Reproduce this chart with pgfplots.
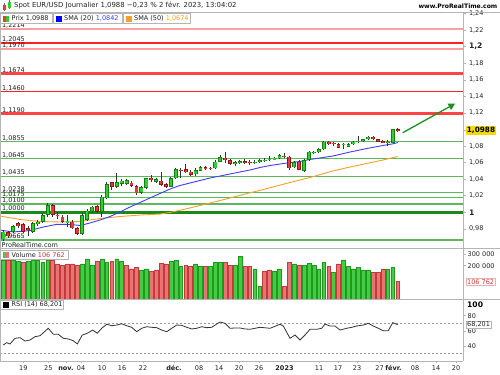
\documentclass[border=0pt]{standalone}
\usepackage{pgfplots}
\pgfplotsset{compat=1.18}
\usepackage{pgfplotstable}
\usepackage{fontspec}
\setmainfont{DejaVu Sans}
\usetikzlibrary{arrows.meta}

\definecolor{upg}{HTML}{33CC33}
\definecolor{upgd}{HTML}{0F7F0F}
\definecolor{dnr}{HTML}{E23B3B}
\definecolor{dnrd}{HTML}{8E1515}
\definecolor{vg}{HTML}{44CC44}
\definecolor{vgd}{HTML}{1E9A1E}
\definecolor{vr}{HTML}{E87474}
\definecolor{vrd}{HTML}{C23A3A}
\definecolor{lvlred}{HTML}{FF2020}
\definecolor{lvlthick}{HTML}{FF4444}
\definecolor{lvlpink}{HTML}{FF9E9E}
\definecolor{lvlgreen}{HTML}{5CB85C}
\definecolor{lvldark}{HTML}{1A8A1A}
\definecolor{smablue}{HTML}{3F3FF2}
\definecolor{smaorange}{HTML}{F5A02A}
\definecolor{framegray}{HTML}{B5B5B5}
\definecolor{arrowgreen}{HTML}{1E8F1E}
\definecolor{pricebox}{HTML}{F5D90A}
\definecolor{txt}{HTML}{222222}
\definecolor{wickc}{HTML}{333333}

\newcommand{\fs}{\fontsize{6.5bp}{7bp}\selectfont}
\newcommand{\fh}{\fontsize{6.9bp}{8bp}\selectfont}
\newcommand{\fb}{\fontsize{7.6bp}{8bp}\selectfont\bfseries}

% up candles: x O H L C
\pgfplotstableread{
x O H L C
3.3 0.9674 0.9786 0.9653 0.9766
13.2 0.9766 0.9847 0.9746 0.9835
32.9 0.9766 0.9883 0.9746 0.9867
37.8 0.9859 0.9907 0.9835 0.9886
42.7 0.9886 0.9992 0.9871 0.9967
47.7 0.9967 1.0109 0.9947 1.0088
67.4 0.9883 0.9967 0.9826 0.9895
82.2 0.9738 0.9988 0.9726 0.9967
87.1 0.9907 1.0040 0.9895 1.0019
92.0 1.0007 1.0082 0.9992 1.0068
101.9 1.0007 1.0209 0.9947 1.0188
106.8 1.0169 1.0370 1.0155 1.0342
116.7 1.0309 1.0478 1.0293 1.0362
121.6 1.0342 1.0402 1.0318 1.0382
126.6 1.0342 1.0408 1.0324 1.0390
141.3 1.0237 1.0318 1.0227 1.0302
146.3 1.0297 1.0420 1.0287 1.0411
156.1 1.0370 1.0420 1.0354 1.0399
170.9 1.0309 1.0426 1.0300 1.0411
175.9 1.0411 1.0531 1.0402 1.0519
195.6 1.0459 1.0529 1.0444 1.0511
200.5 1.0502 1.0565 1.0493 1.0543
215.3 1.0531 1.0626 1.0523 1.0611
220.2 1.0611 1.0696 1.0604 1.0664
235.0 1.0583 1.0614 1.0565 1.0604
239.9 1.0599 1.0632 1.0589 1.0620
254.7 1.0592 1.0626 1.0583 1.0611
259.7 1.0604 1.0644 1.0595 1.0632
264.6 1.0628 1.0656 1.0607 1.0636
269.5 1.0640 1.0680 1.0620 1.0648
274.5 1.0632 1.0674 1.0626 1.0659
279.4 1.0652 1.0710 1.0644 1.0692
294.2 1.0543 1.0614 1.0535 1.0604
304.0 1.0500 1.0644 1.0481 1.0632
309.0 1.0632 1.0746 1.0620 1.0732
313.9 1.0720 1.0740 1.0704 1.0729
318.8 1.0725 1.0771 1.0713 1.0761
323.8 1.0761 1.0861 1.0752 1.0853
343.5 1.0816 1.0833 1.0764 1.0825
348.4 1.0792 1.0837 1.0783 1.0825
353.3 1.0821 1.0861 1.0813 1.0853
358.3 1.0857 1.0921 1.0833 1.0866
363.2 1.0861 1.0891 1.0853 1.0882
368.1 1.0882 1.0921 1.0873 1.0913
387.8 1.0845 1.0873 1.0801 1.0854
392.8 1.0841 1.1012 1.0831 1.1002
}\upC

% down candles
\pgfplotstableread{
x O H L C
8.2 0.9760 0.9774 0.9690 0.9712
18.1 0.9867 0.9883 0.9810 0.9835
23.0 0.9859 0.9871 0.9750 0.9766
28.0 0.9810 0.9835 0.9714 0.9792
52.6 1.0088 1.0100 0.9947 0.9967
57.5 0.9973 0.9998 0.9925 0.9955
62.5 0.9947 0.9967 0.9871 0.9886
72.3 0.9886 0.9907 0.9798 0.9807
77.3 0.9807 0.9822 0.9720 0.9738
97.0 1.0076 1.0088 0.9992 1.0007
111.8 1.0362 1.0370 1.0269 1.0309
131.5 1.0357 1.0378 1.0300 1.0318
136.4 1.0318 1.0330 1.0215 1.0229
151.2 1.0418 1.0450 1.0370 1.0390
161.1 1.0382 1.0483 1.0318 1.0330
166.0 1.0342 1.0354 1.0293 1.0309
180.8 1.0517 1.0531 1.0411 1.0505
185.7 1.0519 1.0583 1.0471 1.0483
190.6 1.0490 1.0505 1.0438 1.0450
205.4 1.0543 1.0559 1.0511 1.0531
210.4 1.0535 1.0547 1.0511 1.0527
225.2 1.0659 1.0725 1.0592 1.0632
230.1 1.0632 1.0644 1.0571 1.0583
244.9 1.0620 1.0638 1.0583 1.0599
249.8 1.0607 1.0632 1.0571 1.0599
284.3 1.0685 1.0713 1.0652 1.0676
289.2 1.0671 1.0680 1.0511 1.0531
299.1 1.0611 1.0626 1.0505 1.0511
328.7 1.0853 1.0861 1.0809 1.0821
333.6 1.0838 1.0853 1.0801 1.0828
338.5 1.0821 1.0831 1.0771 1.0780
373.1 1.0913 1.0921 1.0873 1.0885
378.0 1.0885 1.0891 1.0845 1.0853
382.9 1.0861 1.0873 1.0837 1.0845
397.7 1.1003 1.1014 1.0970 1.0988
}\dnC

\pgfplotstableread{
x s
0 0.9786
13 0.9762
30 0.9780
43 0.9822
57 0.9855
70 0.9853
80 0.9841
90 0.9871
100 0.9907
110 0.9949
120 1.0004
130 1.0064
140 1.0118
150 1.0173
160 1.0227
170 1.0281
180 1.0324
190 1.0354
200 1.0384
210 1.0414
220 1.0438
230 1.0463
240 1.0487
250 1.0511
260 1.0541
270 1.0565
280 1.0583
290 1.0601
300 1.0614
310 1.0638
320 1.0656
333 1.0680
350 1.0728
367 1.0771
383 1.0807
393 1.0827
397.7 1.0842
}\smaA

\pgfplotstableread{
x s
0 0.9955
20 0.9913
40 0.9889
60 0.9883
80 0.9889
100 0.9925
120 0.9949
140 0.9967
160 0.9979
170 0.9998
180 1.0025
190 1.0053
200 1.0082
210 1.0112
220 1.0142
230 1.0173
240 1.0205
250 1.0235
267 1.0287
290 1.0360
310 1.0420
333 1.0500
350 1.0547
367 1.0590
383 1.0632
397.7 1.0674
}\smaB

\pgfplotstableread{
x v
3.3 229000
13.2 229000
18.1 223000
28.0 223000
32.9 229000
37.8 229000
42.7 216000
47.7 229000
82.2 206000
87.1 235000
92.0 200000
101.9 235000
106.8 216000
116.7 235000
121.6 223000
141.3 171000
146.3 177000
170.9 223000
175.9 229000
180.8 194000
195.6 206000
200.5 190000
210.4 190000
215.3 217000
220.2 217000
235.0 200000
239.9 252000
254.7 177000
259.7 78000
274.5 161000
279.4 177000
294.2 206000
304.0 200000
309.0 210000
313.9 198000
318.8 177000
323.8 217000
333.6 159000
343.5 229000
348.4 190000
353.3 177000
358.3 187000
363.2 167000
368.1 171000
387.8 177000
392.8 188000
}\volG

\pgfplotstableread{
x v
8.2 229000
23.0 216000
52.6 229000
57.5 206000
62.5 198000
67.4 206000
72.3 206000
77.3 200000
97.0 219000
111.8 223000
126.6 200000
131.5 177000
136.4 188000
151.2 161000
156.1 171000
161.1 210000
166.0 206000
185.7 198000
190.6 190000
205.4 190000
225.2 217000
230.1 200000
244.9 194000
249.8 194000
264.6 161000
269.5 171000
284.3 74000
289.2 217000
299.1 200000
328.7 194000
338.5 206000
373.1 159000
378.0 159000
382.9 177000
397.7 106762
}\volR

\pgfplotstableread{
x r
3.3 41.3
6.7 44.4
10 42.7
15 50.2
20 51.0
25 46.6
30 47.9
35 52.3
40 53.6
48.3 63.4
53.3 55.5
58.3 55.5
63.3 50.2
68.3 49.3
73.3 47.0
77.3 42.7
82.3 54.5
87.3 56.8
92.7 61.1
97.3 56.8
101.7 63.4
106.7 68.7
111.7 66.8
116.7 67.7
121.7 69.4
126.7 66.8
131.7 64.7
136.7 58.9
141.7 63.4
146.7 65.5
151.7 64.7
156.7 64.2
161.7 61.1
166.7 58.9
171.7 63.4
176.7 67.7
181.7 67.3
186.7 64.7
191.7 62.5
196.7 63.4
201.7 65.5
206.7 64.2
211.7 64.7
216.7 69.0
220 71.7
225 70.0
230 63.4
235 63.8
240 63.8
245 62.5
250 62.1
260 64.7
270 63.4
280 68.7
283.3 66.4
290 50.2
295 54.5
300 47.9
305 54.5
310 62.1
316.7 62.1
321.7 63.4
325 69.0
330 66.4
335 66.4
340 61.1
346.7 63.4
351.7 64.7
356.7 66.4
363.3 67.7
368.3 70.0
373.3 66.4
378.3 63.4
383.3 60.2
388.3 60.2
392.7 70.8
397.7 68.2
}\rsiT

\pgfplotsset{
  bar err/.style 2 args={draw=none, mark=none, forget plot,
    error bars/.cd, y dir=both, y explicit, error mark=none,
    error bar style={color=#1, draw=#1, line width=#2, solid, line cap=butt}},
}

\begin{document}
\begin{tikzpicture}
\useasboundingbox (0,0) rectangle (500bp,-375bp);
\fill[white] (0,0) rectangle (500bp,-375bp);

% ---------------- price panel ----------------
\begin{axis}[
  at={(0bp,-12.5bp)}, anchor=north west,
  scale only axis, width=463bp, height=235.8bp,
  xmin=0, xmax=463, ymin=0.95652, ymax=1.24130,
  clip=false,
  axis x line=none, axis y line*=right,
  axis line style={framegray,-},
  ytick={0.98,1,1.02,1.04,1.06,1.08,1.12,1.14,1.16,1.18,1.2,1.22,1.24},
  yticklabels={{0,98},{\fb 1},{1,02},{1,04},{1,06},{1,08},{1,12},{1,14},{1,16},{1,18},{\fb 1,2},{1,22},{\raisebox{-3bp}{1,24}}},
  extra y ticks={1.0988}, extra y tick labels={},
  yticklabel style={font=\fs, text=txt},
  tick align=outside, major tick length=2.5bp,
  tick style={framegray, line width=0.6bp},
]
% horizontal levels
\addplot[lvlpink, line width=1.5bp] coordinates {(0,1.2214) (463,1.2214)};
\addplot[lvlred, line width=1.1bp] coordinates {(0,1.2045) (463,1.2045)};
\addplot[lvlpink, line width=1.5bp] coordinates {(0,1.1970) (463,1.1970)};
\addplot[lvlthick, line width=2.6bp] coordinates {(0,1.1674) (463,1.1674)};
\addplot[lvlred, line width=1.2bp] coordinates {(0,1.1460) (463,1.1460)};
\addplot[lvlthick, line width=2.6bp] coordinates {(0,1.1190) (463,1.1190)};
\addplot[lvlgreen, line width=1.1bp] coordinates {(0,1.0855) (463,1.0855)};
\addplot[lvlgreen, line width=1.1bp] coordinates {(0,1.0645) (463,1.0645)};
\addplot[lvlgreen, line width=1.1bp] coordinates {(0,1.0435) (463,1.0435)};
\addplot[lvlgreen, line width=1.1bp] coordinates {(0,1.0238) (463,1.0238)};
\addplot[lvlgreen, line width=1.1bp] coordinates {(0,1.0175) (463,1.0175)};
\addplot[lvlgreen, line width=1.1bp] coordinates {(0,1.0100) (463,1.0100)};
\addplot[lvldark, line width=2.6bp] coordinates {(0,1.0000) (463,1.0000)};
\addplot[lvlgreen, line width=1.1bp] coordinates {(0,0.9665) (463,0.9665)};
% level labels
\begin{scope}[every node/.style={anchor=south west, inner sep=0.4bp, font=\fs, text=txt}]
\node at (axis cs:1.5,1.2214) {1,2214};
\node at (axis cs:1.5,1.2045) {1,2045};
\node at (axis cs:1.5,1.1970) {1,1970};
\node at (axis cs:1.5,1.1674) {1,1674};
\node at (axis cs:1.5,1.1460) {1,1460};
\node at (axis cs:1.5,1.1190) {1,1190};
\node at (axis cs:1.5,1.0855) {1,0855};
\node at (axis cs:1.5,1.0645) {1,0645};
\node at (axis cs:1.5,1.0435) {1,0435};
\node at (axis cs:1.5,1.0238) {1,0238};
\node at (axis cs:1.5,1.0175) {1,0175};
\node at (axis cs:1.5,1.0100) {1,0100};
\node at (axis cs:1.5,1.0000) {1,0000};
\node at (axis cs:1.5,0.9665) {0,9665};
\end{scope}
% moving averages
\addplot[smaorange, line width=0.9bp] table[x=x, y=s] {\smaB};
\addplot[smablue, line width=0.9bp] table[x=x, y=s] {\smaA};
% candles: wicks
\addplot[bar err={wickc}{0.9bp}] table[x=x, y expr={(\thisrow{H}+\thisrow{L})/2}, y error expr={(\thisrow{H}-\thisrow{L})/2}] {\upC};
\addplot[bar err={wickc}{0.9bp}] table[x=x, y expr={(\thisrow{H}+\thisrow{L})/2}, y error expr={(\thisrow{H}-\thisrow{L})/2}] {\dnC};
% bodies: border then fill
\addplot[bar err={upgd}{3.8bp}] table[x=x, y expr={(\thisrow{O}+\thisrow{C})/2}, y error expr={abs(\thisrow{C}-\thisrow{O})/2}] {\upC};
\addplot[bar err={upg}{2.4bp}] table[x=x, y expr={(\thisrow{O}+\thisrow{C})/2}, y error expr={max(abs(\thisrow{C}-\thisrow{O})/2-0.0007,0.0001)}] {\upC};
\addplot[bar err={dnrd}{3.8bp}] table[x=x, y expr={(\thisrow{O}+\thisrow{C})/2}, y error expr={abs(\thisrow{C}-\thisrow{O})/2}] {\dnC};
\addplot[bar err={dnr}{2.4bp}] table[x=x, y expr={(\thisrow{O}+\thisrow{C})/2}, y error expr={max(abs(\thisrow{C}-\thisrow{O})/2-0.0007,0.0001)}] {\dnC};
% arrow
\draw[arrowgreen, line width=1.3bp, -{Triangle[length=6.5bp,width=7bp]}] (axis cs:402.7,1.0961) -- (axis cs:455,1.1312);
% price box
\node[fill=pricebox, anchor=west, inner sep=1.2bp, font=\fontsize{7.3bp}{8bp}\selectfont\bfseries, text=black] at (axis cs:465.5,1.0988) {1,0988};
% watermark
\node[anchor=west, inner sep=0, font=\fs, text=txt] at (axis cs:1.5,0.9607) {ProRealTime.com};
\end{axis}

% ---------------- volume panel ----------------
\begin{axis}[
  at={(0bp,-248.3bp)}, anchor=north west,
  scale only axis, width=463bp, height=51.1bp,
  xmin=0, xmax=463, ymin=0, ymax=297100,
  hide axis, clip=false,
]
\addplot[ybar, bar width=3.8, bar shift=0pt, fill=vg, draw=vgd, line width=0.5bp] table[x=x, y=v] {\volG};
\addplot[ybar, bar width=3.8, bar shift=0pt, fill=vr, draw=vrd, line width=0.5bp] table[x=x, y=v] {\volR};
\end{axis}

% ---------------- RSI panel ----------------
\begin{axis}[
  at={(0bp,-299.5bp)}, anchor=north west,
  scale only axis, width=463bp, height=61.2bp,
  xmin=0, xmax=463, ymin=20.6, ymax=101.4,
  clip=false,
  axis y line=none, axis x line*=bottom,
  axis line style={framegray,-},
  xtick={23.3,48.3,66,81,102,122,143,174,199,219,239,259,284.5,319,338,357,379.5,393.5,415,436,456},
  xticklabels={19,25,{\bfseries nov.},04,10,16,22,{\bfseries déc.},08,14,20,26,{\bfseries 2023},11,17,23,27,{\bfseries févr.},08,14,20},
  xticklabel style={font=\fs, text=txt, text height=4.8bp, text depth=0.2bp, yshift=0.8bp},
  tick align=outside, major tick length=2bp,
  tick style={framegray, line width=0.6bp},
]
\addplot[gray!80, line width=0.6bp, dash pattern=on 2bp off 2bp] coordinates {(0,70) (463,70)};
\addplot[gray!80, line width=0.6bp, dash pattern=on 2bp off 2bp] coordinates {(0,30) (463,30)};
\addplot[black!80, line width=0.8bp] table[x=x, y=r] {\rsiT};
\end{axis}

% ---------------- frames ----------------
\draw[framegray, line width=0.6bp] (0,-12.5bp) -- (500bp,-12.5bp);
\draw[framegray, line width=0.6bp] (0,-248.3bp) -- (500bp,-248.3bp);
\draw[framegray, line width=0.6bp] (0,-299.5bp) -- (500bp,-299.5bp);
\draw[framegray, line width=0.6bp] (463bp,-12.5bp) -- (463bp,-360.7bp);
\draw[framegray, line width=0.6bp] (0.3bp,-12.5bp) -- (0.3bp,-360.7bp);

% ---------------- header ----------------
\draw[black!60, line width=0.5bp] (4.5bp,-3bp) -- (4.5bp,-11bp);
\fill[dnr] (3bp,-5bp) rectangle (6bp,-10bp);
\draw[black!60, line width=0.5bp] (9.5bp,-0.5bp) -- (9.5bp,-9bp);
\fill[upg] (8bp,-1.5bp) rectangle (11bp,-8bp);
\node[anchor=west, inner sep=0, font=\fh, text=txt] at (14bp,-5.8bp) {Spot EUR/USD Journalier 1,0988 −0,23 \% 2 févr. 2023, 13:04:02};
\node[anchor=east, inner sep=0, font=\fontsize{6.1bp}{7bp}\selectfont\bfseries, text=black] at (497.5bp,-6bp) {www.ProRealTime.com};

% price legend boxes
\draw[framegray, fill=white, line width=0.5bp] (0.5bp,-13.5bp) rectangle (52bp,-23.5bp);
\fill[dnr] (3bp,-15.5bp) rectangle (6bp,-21.5bp);
\fill[upg] (6bp,-15.5bp) rectangle (9bp,-21.5bp);
\node[anchor=west, inner sep=0, font=\fs, text=txt] at (11.5bp,-18.6bp) {Prix 1,0988};
\draw[framegray, fill=white, line width=0.5bp] (53.5bp,-13.5bp) rectangle (122bp,-23.5bp);
\fill[blue] (56bp,-15.5bp) rectangle (62bp,-21.5bp);
\node[anchor=west, inner sep=0, font=\fs, text=txt] at (64bp,-18.6bp) {SMA (20) \textcolor{smablue}{1,0842}};
\draw[framegray, fill=white, line width=0.5bp] (123.5bp,-13.5bp) rectangle (190bp,-23.5bp);
\fill[smaorange] (126bp,-15.5bp) rectangle (132bp,-21.5bp);
\node[anchor=west, inner sep=0, font=\fs, text=txt] at (134bp,-18.6bp) {SMA (50) \textcolor{smaorange}{1,0674}};

% volume legend and labels
\draw[framegray, fill=white, line width=0.5bp] (0.5bp,-249.8bp) rectangle (68bp,-259.3bp);
\fill[vg] (3bp,-251.5bp) rectangle (6bp,-257.5bp);
\fill[vr] (6bp,-251.5bp) rectangle (9bp,-257.5bp);
\node[anchor=west, inner sep=0, font=\fs, text=txt] at (11.5bp,-254.6bp) {Volume \textcolor{vrd}{106 762}};
\draw[framegray, line width=0.6bp] (463bp,-254.3bp) -- (465.5bp,-254.3bp);
\draw[framegray, line width=0.6bp] (463bp,-265.7bp) -- (465.5bp,-265.7bp);
\node[anchor=west, inner sep=0, font=\fs, text=txt] at (467.5bp,-254.3bp) {300 000};
\node[anchor=west, inner sep=0, font=\fs, text=txt] at (467.5bp,-265.7bp) {200 000};
\node[anchor=west, draw=vr!60, fill=white, inner sep=1bp, font=\fs, text=vrd] at (466bp,-281.7bp) {106 762};

% RSI legend and labels
\draw[framegray, fill=white, line width=0.5bp] (0.5bp,-300bp) rectangle (63bp,-309bp);
\fill[black] (3bp,-301.6bp) rectangle (9bp,-307.6bp);
\node[anchor=west, inner sep=0, font=\fs, text=txt] at (11.5bp,-304.6bp) {RSI (14) 68,201};
\foreach \yy/\lab in {315.7/80,330.8/60,346/40} {
  \draw[framegray, line width=0.6bp] (463bp,-\yy bp) -- (465.5bp,-\yy bp);
  \node[anchor=west, inner sep=0, font=\fs, text=txt] at (467.5bp,-\yy bp) {\lab};
}
\node[anchor=west, inner sep=0, font=\fb, text=black] at (467bp,-304.3bp) {100};
\node[anchor=west, draw=framegray, fill=white, inner sep=1bp, font=\fs, text=txt] at (466bp,-324.6bp) {68,201};
\end{tikzpicture}
\end{document}
